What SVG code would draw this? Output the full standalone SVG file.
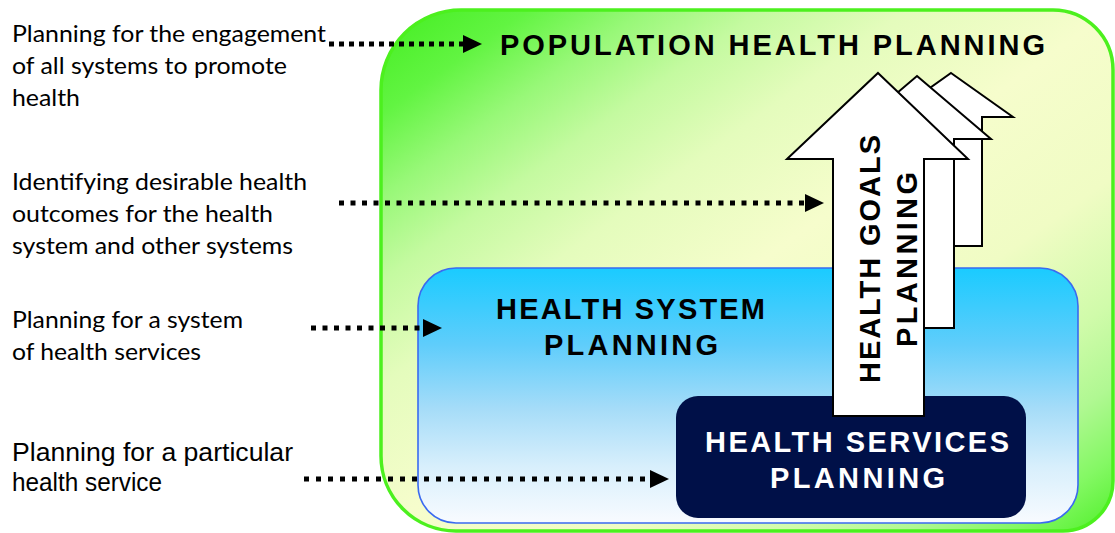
<svg xmlns="http://www.w3.org/2000/svg" width="1115" height="533" viewBox="0 0 1115 533">
<defs>
<linearGradient id="gGreen" x1="0" y1="0" x2="1" y2="1">
<stop offset="0" stop-color="#42ee20"/>
<stop offset="0.1" stop-color="#62f442"/>
<stop offset="0.18" stop-color="#98f878"/>
<stop offset="0.26" stop-color="#c4faa0"/>
<stop offset="0.36" stop-color="#e4fcbc"/>
<stop offset="0.5" stop-color="#f6fdcc"/>
<stop offset="0.66" stop-color="#f0fcc4"/>
<stop offset="0.78" stop-color="#d0fbaa"/>
<stop offset="0.86" stop-color="#b0f892"/>
<stop offset="0.93" stop-color="#84f864"/>
<stop offset="1" stop-color="#50f02a"/>
</linearGradient>
<linearGradient id="gBlue" x1="0" y1="0" x2="0" y2="1">
<stop offset="0" stop-color="#1acbff"/>
<stop offset="0.3" stop-color="#5fcdfb"/>
<stop offset="0.55" stop-color="#a5dcf8"/>
<stop offset="0.78" stop-color="#d8effc"/>
<stop offset="1" stop-color="#f8fbff"/>
</linearGradient>
<marker id="ah" markerUnits="userSpaceOnUse" markerWidth="20" markerHeight="18" refX="0" refY="9" orient="auto">
<path d="M0,0 L19,9 L0,18 Z" fill="#000"/>
</marker>
<style>
.lbl{font-family:"Lato","Open Sans","Liberation Sans",sans-serif;font-size:23px;fill:#000}
.lbl2{font-family:"Liberation Sans",Arial,sans-serif;font-size:25px;fill:#000}
.hd{font-family:"Liberation Sans",Arial,sans-serif;font-weight:bold;font-size:29px;fill:#000}
.hdw{font-family:"Liberation Sans",Arial,sans-serif;font-weight:bold;font-size:29px;fill:#fff}
.arr{fill:#fff;stroke:#000;stroke-width:2;stroke-linejoin:miter}
.dot{stroke:#000;stroke-width:5;fill:none}
</style>
</defs>

<g id="population-health-planning">
<path d="M461,10 L1053,10 A60,60 0 0 1 1113,70 L1113,481 A50,50 0 0 1 1063,531 L456,531 A75,75 0 0 1 381,456 L381,90 A80,80 0 0 1 461,10 Z" fill="url(#gGreen)" stroke="#4cf01e" stroke-width="3.5"/>
<text class="hd" x="500" y="55" textLength="545" lengthAdjust="spacing">POPULATION HEALTH PLANNING</text>
</g>

<g id="health-system-planning">
<rect x="418" y="268" width="660" height="255" rx="38" ry="38" fill="url(#gBlue)" stroke="#3a6af0" stroke-width="1.6"/>
<text class="hd" x="496" y="319" textLength="269" lengthAdjust="spacing">HEALTH SYSTEM</text>
<text class="hd" x="544" y="355" textLength="174" lengthAdjust="spacing">PLANNING</text>
</g>

<g id="health-services-planning">
<rect x="676" y="396" width="350" height="122" rx="22" ry="22" fill="#001048"/>
<text class="hdw" x="705" y="452" textLength="304" lengthAdjust="spacing">HEALTH SERVICES</text>
<text class="hdw" x="770" y="488" textLength="175" lengthAdjust="spacing">PLANNING</text>
</g>

<g id="health-goals-planning">
<polygon class="arr" points="951,73 1013,117 982,117 982,246 920,246 920,117 889,117"/>
<polygon class="arr" points="917,76 991,139 954,139 954,328 880,328 880,139 843,139"/>
<polygon class="arr" points="878,73 968,159 924,159 924,416 833,416 833,159 787,159"/>
<text class="hd" transform="translate(880,383) rotate(-90)" x="0" y="0" textLength="248" lengthAdjust="spacing">HEALTH GOALS</text>
<text class="hd" transform="translate(917,347) rotate(-90)" x="0" y="0" textLength="175" lengthAdjust="spacing">PLANNING</text>
</g>

<g id="label-population">
<text class="lbl" x="12" y="42" textLength="314" lengthAdjust="spacingAndGlyphs">Planning for the engagement</text>
<text class="lbl" x="12" y="74" textLength="275" lengthAdjust="spacingAndGlyphs">of all systems to promote</text>
<text class="lbl" x="12" y="106" textLength="68" lengthAdjust="spacingAndGlyphs">health</text>
</g>
<g id="label-goals">
<text class="lbl" x="12" y="190" textLength="295" lengthAdjust="spacingAndGlyphs">Identifying desirable health</text>
<text class="lbl" x="12" y="222" textLength="261" lengthAdjust="spacingAndGlyphs">outcomes for the health</text>
<text class="lbl" x="12" y="254" textLength="281" lengthAdjust="spacingAndGlyphs">system and other systems</text>
</g>
<g id="label-system">
<text class="lbl" x="12" y="328" textLength="231" lengthAdjust="spacingAndGlyphs">Planning for a system</text>
<text class="lbl" x="12" y="360" textLength="189" lengthAdjust="spacingAndGlyphs">of health services</text>
</g>
<g id="label-services">
<text class="lbl2" x="12" y="461" textLength="281" lengthAdjust="spacingAndGlyphs">Planning for a particular</text>
<text class="lbl2" x="12" y="491" textLength="150" lengthAdjust="spacingAndGlyphs">health service</text>
</g>

<g id="connectors">
<line class="dot" x1="329" y1="44" x2="463" y2="44" stroke-dasharray="5 5" marker-end="url(#ah)"/>
<line class="dot" x1="339" y1="203" x2="805" y2="203" stroke-dasharray="5 6.5" marker-end="url(#ah)"/>
<line class="dot" x1="311" y1="328" x2="423" y2="328" stroke-dasharray="5 6.5" marker-end="url(#ah)"/>
<line class="dot" x1="304" y1="479" x2="650" y2="479" stroke-dasharray="5 7" marker-end="url(#ah)"/>
</g>
</svg>
